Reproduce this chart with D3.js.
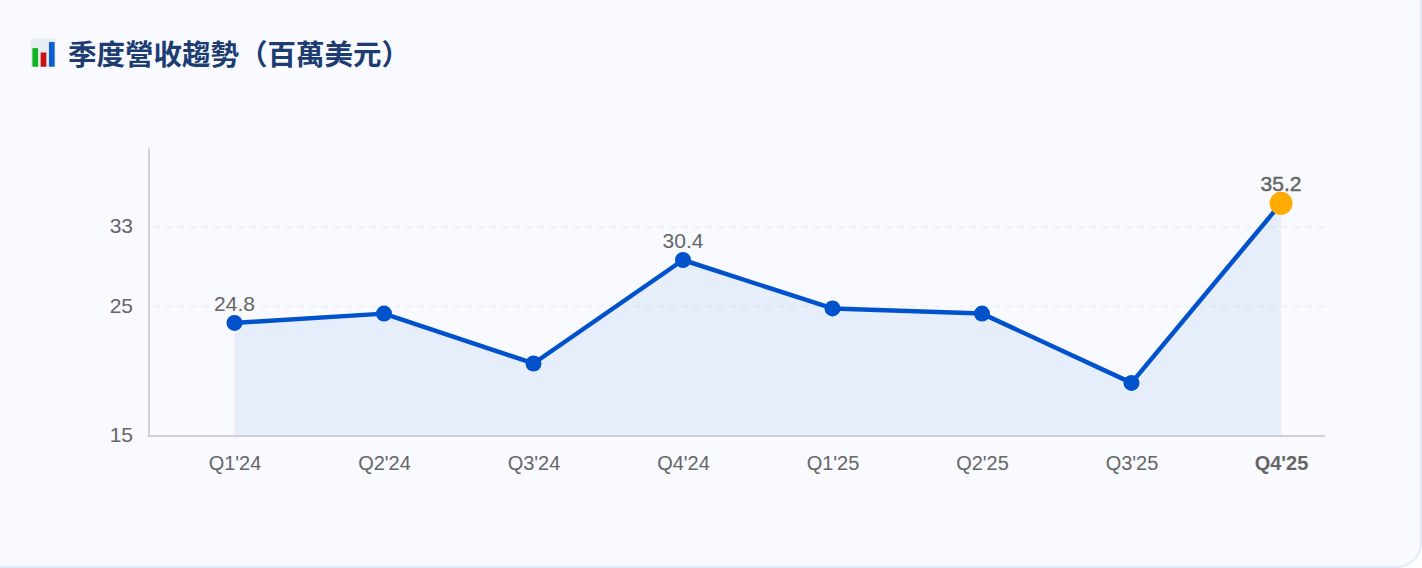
<!DOCTYPE html>
<html lang="zh-Hant">
<head>
<meta charset="utf-8">
<script src="https://cdn.jsdelivr.net/npm/d3@7/dist/d3.min.js"></script>
<style>
html,body{margin:0;padding:0;background:#fff;overflow:hidden}
svg{display:block}
text{font-family:"Liberation Sans",Arial,sans-serif}
</style>
</head>
<body>
<svg id="chart" width="1422" height="568" role="img" aria-label="季度營收趨勢（百萬美元）"></svg>
<script>
const titleText = "季度營收趨勢（百萬美元）";
const quarters = ["Q1'24","Q2'24","Q3'24","Q4'24","Q1'25","Q2'25","Q3'25","Q4'25"];
// Heights read against the drawn axis
const revenue = [23.73,24.45,20.6,29.68,24.85,24.45,19.1,35.4];
const yTicks = [15,25,33];
// Printed point labels (quarter -> text)
const pointLabelQuarters = ["Q1'24","Q4'24","Q4'25"];
const pointLabels = ["24.8","30.4","35.2"];
const iconBarLabels = ["green","red","blue"];
const iconBarHeights = [3,2.3,4];

const svg = d3.select("#chart");
const emphasis = "Q4'25";
const inkColor = "#666666";
const sans = '"Liberation Sans",Arial,sans-serif';

// Card
svg.append("rect").attr("x",-30).attr("y",-30).attr("width",1451).attr("height",597)
  .attr("rx",24).attr("fill","#f8faff").attr("stroke","#e2ebfa").attr("stroke-width",2);

// Title icon
const icon = svg.append("g");
const iconGrad = svg.append("defs").append("linearGradient").attr("id","iconBg")
  .attr("x1",0).attr("y1",0).attr("x2",0).attr("y2",1);
iconGrad.append("stop").attr("offset",0).attr("stop-color","#e9eef3");
iconGrad.append("stop").attr("offset",1).attr("stop-color","#dfe6ec");
icon.append("rect").attr("x",31).attr("y",38.5).attr("width",24.5).attr("height",28.5).attr("fill","url(#iconBg)");
const iconX = d3.scaleBand().domain(iconBarLabels).range([32.4,54.6]).paddingInner(0.32).paddingOuter(0);
const iconY = d3.scaleLinear().domain([0,4]).range([66.7,42]);
const iconColor = d3.scaleOrdinal().domain(iconBarLabels).range(["#0fb31f","#c8100f","#0b5fd0"]);
icon.selectAll(".ib").data(iconBarLabels).join("rect").attr("class","ib")
  .attr("x",d=>iconX(d)).attr("width",iconX.bandwidth())
  .attr("y",(d,i)=>iconY(iconBarHeights[i]))
  .attr("height",(d,i)=>iconY(0)-iconY(iconBarHeights[i]))
  .attr("fill",d=>iconColor(d));

svg.append("text").attr("x",68).attr("y",64.5).text(titleText)
  .attr("font-size",28.5).attr("font-weight",700).attr("fill","#1c3c72")
  .style("font-family",'"Noto Sans CJK TC","Liberation Sans",sans-serif');

// Scales (the drawn axis is not evenly spaced between its ticks)
const x = d3.scalePoint().domain(quarters).range([234.5,1281]);
const y = d3.scaleLinear().domain([15,25,33,41.02]).range([436,306.5,227,148]);
const xLeft = 148.5, xRight = 1325;

// Grid
svg.append("g").selectAll("line").data(yTicks.slice(1)).join("line")
  .attr("x1",xLeft).attr("x2",xRight).attr("y1",d=>y(d)).attr("y2",d=>y(d))
  .attr("stroke","#eff0f3").attr("stroke-width",2).attr("stroke-dasharray","6 6").attr("stroke-dashoffset",6.5);

// Area and line
svg.append("path").datum(revenue)
  .attr("d",d3.area().x((d,i)=>x(quarters[i])).y0(y(15)).y1(d=>y(d)))
  .attr("fill","#0052cc").attr("fill-opacity",0.07);
svg.append("path").datum(revenue)
  .attr("d",d3.line().x((d,i)=>x(quarters[i])).y(d=>y(d)))
  .attr("fill","none").attr("stroke","#0052cc").attr("stroke-width",4.5).attr("stroke-linejoin","round");

// Axes
const yAxis = d3.axisLeft(y).tickValues(yTicks).tickSize(0).tickPadding(15.5).tickFormat(d3.format("d"));
const gy = svg.append("g").attr("transform",`translate(${xLeft},0)`).call(yAxis);
gy.select(".domain").attr("stroke","#cfd1d6").attr("stroke-width",2);
gy.selectAll("text").attr("font-size",21).attr("fill",inkColor).style("font-family",sans).attr("dy","0.28em");

const xAxis = d3.axisBottom(x).tickSize(0).tickPadding(20);
const gx = svg.append("g").attr("transform",`translate(0,${y(15)})`).call(xAxis);
gx.select(".domain").attr("d",`M${xLeft-1},0H${xRight}`).attr("stroke","#cfd1d6").attr("stroke-width",2);
gx.selectAll("text").attr("font-size",20).attr("fill",inkColor).style("font-family",sans)
  .attr("font-weight",d=>d===emphasis?700:400);

// Points
svg.append("g").selectAll("circle").data(revenue).join("circle")
  .attr("cx",(d,i)=>x(quarters[i])).attr("cy",d=>y(d))
  .attr("r",(d,i)=>quarters[i]===emphasis?11.5:8)
  .attr("fill",(d,i)=>quarters[i]===emphasis?"#ffab00":"#0052cc");

// Point labels
svg.append("g").selectAll("text").data(pointLabels).join("text")
  .attr("x",(d,i)=>x(pointLabelQuarters[i]))
  .attr("y",(d,i)=>y(revenue[quarters.indexOf(pointLabelQuarters[i])])-12)
  .attr("text-anchor","middle").attr("font-size",21).attr("fill",inkColor)
  .attr("stroke",(d,i)=>pointLabelQuarters[i]===emphasis?inkColor:"none").attr("stroke-width",0.5)
  .text(d=>d);
</script>
</body>
</html>
